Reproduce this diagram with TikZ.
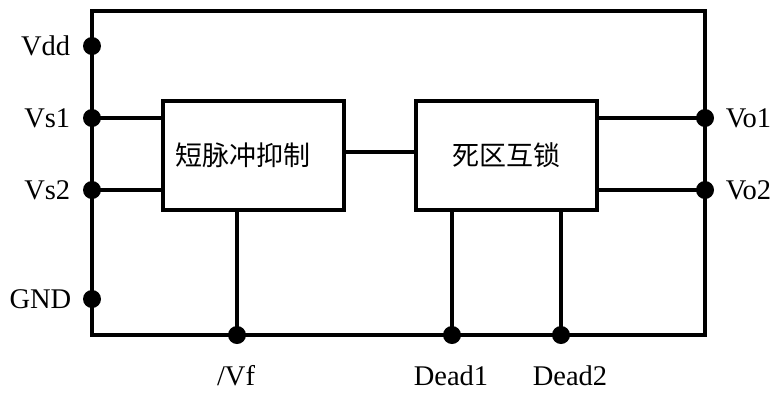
\documentclass[tikz,border=0pt]{standalone}
\usepackage{fontspec}
\setmainfont{Liberation Serif}
\newfontfamily\cjk{Noto Sans CJK SC}
\begin{document}
\begin{tikzpicture}[x=1pt,y=-1pt,line width=3.5pt,
  dot/.style={circle,fill,inner sep=0pt,minimum size=18pt},
  blk/.style={draw,rectangle,minimum width=181pt,minimum height=109pt,inner sep=0pt,
    font=\cjk\fontsize{27}{30}\selectfont},
  lbl/.style={font=\fontsize{28.5}{32}\selectfont,inner sep=0pt}]
\useasboundingbox (0,0) rectangle (777,392);
% outer frame
\coordinate (tl) at (92,11);
\coordinate (br) at (705,335);
\draw (tl) rectangle (br);
% blocks
\node[blk,text width=157pt,align=left,inner xsep=12pt] (b1) at (253.5,155.5) {短脉冲抑制};
\node[blk] (b2) at (506.5,155.5) {死区互锁};
% left pins
\node[dot] (vdd) at (92,46) {};
\node[dot] (vs1) at (92,118) {};
\node[dot] (vs2) at (92,190) {};
\node[dot] (gnd) at (92,299) {};
% right pins
\node[dot] (vo1) at (705,118) {};
\node[dot] (vo2) at (705,190) {};
% bottom pins
\node[dot] (vf) at (237,335) {};
\node[dot] (d1) at (452,335) {};
\node[dot] (d2) at (561,335) {};
% connections
\draw (vs1.center) -- (vs1.center -| b1.west);
\draw (vs2.center) -- (vs2.center -| b1.west);
\draw (b1.east |- 0,152) -- (b2.west |- 0,152);
\draw (vo1.center -| b2.east) -- (vo1.center);
\draw (vo2.center -| b2.east) -- (vo2.center);
\draw (vf.center |- b1.south) -- (vf.center);
\draw (d1.center |- b2.south) -- (d1.center);
\draw (d2.center |- b2.south) -- (d2.center);
% labels
\node[lbl,anchor=east] at (72,46) {Vdd};
\node[lbl,anchor=east] at (72,118) {Vs1};
\node[lbl,anchor=east] at (72,190) {Vs2};
\node[lbl,anchor=east] at (73,299) {GND};
\node[lbl,anchor=west] at (724,118) {Vo1};
\node[lbl,anchor=west] at (724,190) {Vo2};
\node[lbl,anchor=base] at (236,385) {/Vf};
\node[lbl,anchor=base] at (451,385) {Dead1};
\node[lbl,anchor=base] at (570,385) {Dead2};
\end{tikzpicture}
\end{document}
